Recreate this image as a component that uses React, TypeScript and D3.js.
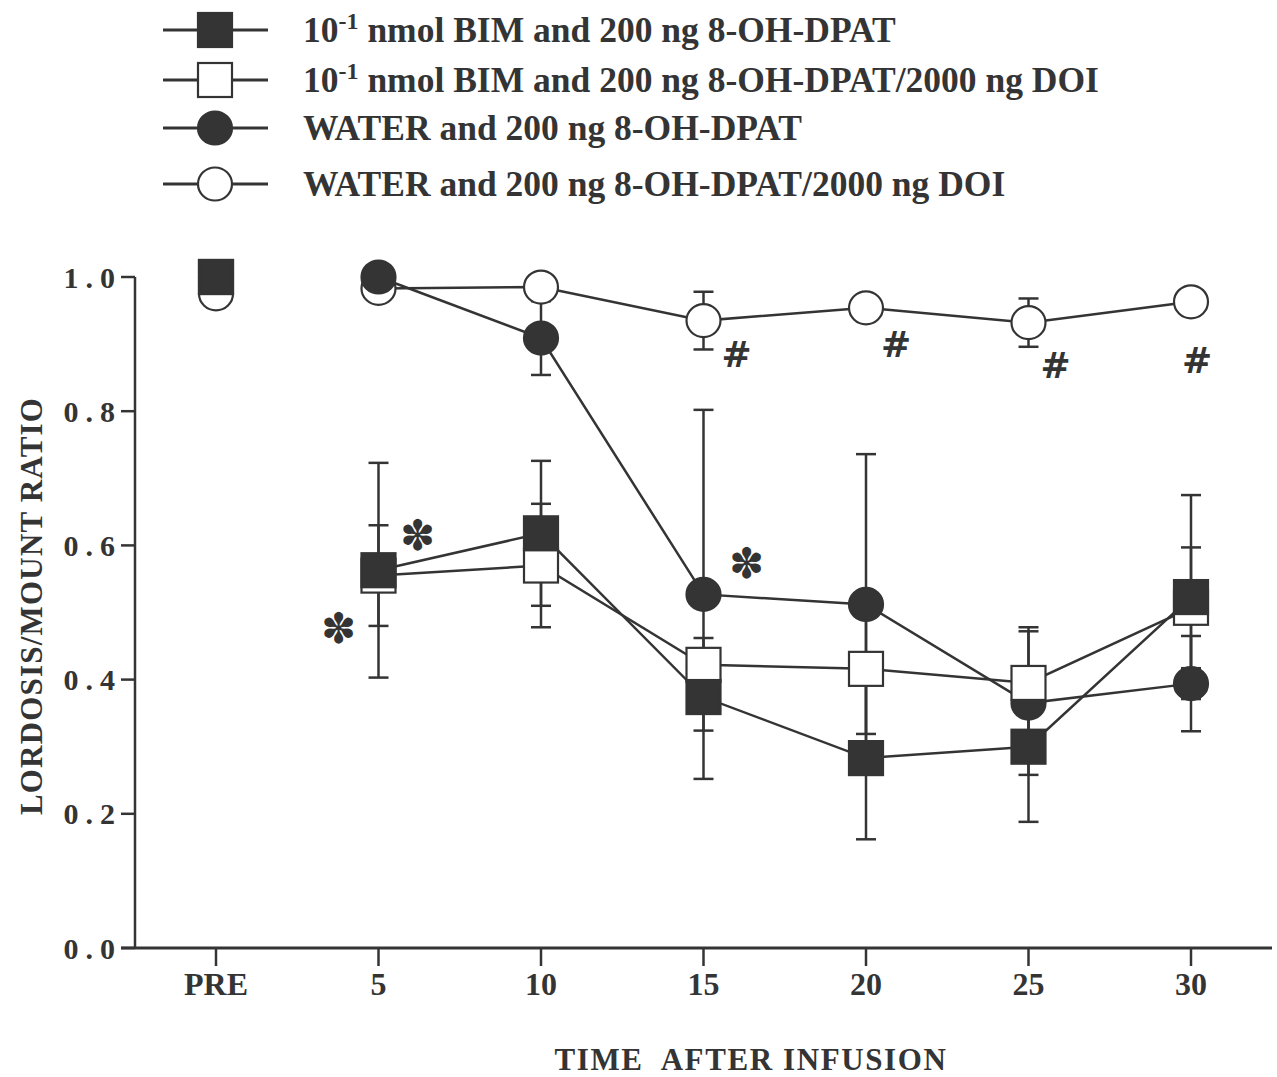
import React from "react";
import * as d3 from "d3";

const categories = ["PRE", "5", "10", "15", "20", "25", "30"];
const yTicks = [0, 0.2, 0.4, 0.6, 0.8, 1.0];

const bimDpat = [1.0, 0.563, 0.618, 0.374, 0.283, 0.3, 0.523];
const bimDpatSem = [0, 0.16, 0.108, 0.05, 0.121, 0.112, 0.152];
const bimDpatDoi = [1.0, 0.555, 0.57, 0.422, 0.416, 0.395, 0.507];
const bimDpatDoiSem = [0, 0.075, 0.092, 0.04, 0.097, 0.083, 0.09];
const waterDpat = [1.0, 1.0, 0.909, 0.527, 0.512, 0.365, 0.394];
const waterDpatSem = [0, 0, 0.055, 0.275, 0.224, 0.107, 0.071];
const waterDpatDoi = [0.975, 0.983, 0.985, 0.935, 0.954, 0.932, 0.963];
const waterDpatDoiSem = [0, 0, 0.01, 0.043, 0.01, 0.036, 0.01];

const legendLabels = [
  ["10", "-1", " nmol BIM and 200 ng 8-OH-DPAT"],
  ["10", "-1", " nmol BIM and 200 ng 8-OH-DPAT/2000 ng DOI"],
  ["WATER and 200 ng 8-OH-DPAT", "", ""],
  ["WATER and 200 ng 8-OH-DPAT/2000 ng DOI", "", ""],
];

// significance marks: category, value level, horizontal offset
const asteriskMarks = [
  { cat: "5", v: 0.615, dx: 39 },
  { cat: "5", v: 0.477, dx: -40 },
  { cat: "15", v: 0.574, dx: 43 },
];
const hashMarks = [
  { cat: "15", v: 0.884, dx: 33 },
  { cat: "20", v: 0.899, dx: 30 },
  { cat: "25", v: 0.869, dx: 27 },
  { cat: "30", v: 0.876, dx: 6 },
];

const INK = "#343434";
const FONT = "'Liberation Serif', 'Times New Roman', serif";

type Series = { key: string; values: number[]; sem: number[]; shape: "square" | "circle"; filled: boolean };

const seriesList: Series[] = [
  { key: "waterDoi", values: waterDpatDoi, sem: waterDpatDoiSem, shape: "circle", filled: false },
  { key: "water", values: waterDpat, sem: waterDpatSem, shape: "circle", filled: true },
  { key: "bimDoi", values: bimDpatDoi, sem: bimDpatDoiSem, shape: "square", filled: false },
  { key: "bim", values: bimDpat, sem: bimDpatSem, shape: "square", filled: true },
];
const legendOrder = ["bim", "bimDoi", "water", "waterDoi"];

function Marker({ x, y, shape, filled }: { x: number; y: number; shape: string; filled: boolean }) {
  const fill = filled ? INK : "#fff";
  if (shape === "square") {
    return <rect x={x - 17} y={y - 17} width={34} height={34} fill={fill} stroke={INK} strokeWidth={2.2} />;
  }
  return <ellipse cx={x} cy={y} rx={17} ry={16.5} fill={fill} stroke={INK} strokeWidth={2.2} />;
}

export default function App() {
  const W = 1277, H = 1077;
  const x = d3.scalePoint<string>().domain(categories).range([216, 1191]);
  const y = d3.scaleLinear().domain([0, 1]).range([948, 277]);
  const line = d3
    .line<[string, number]>()
    .x((d) => x(d[0]) as number)
    .y((d) => y(d[1]));

  const legendRows = [30, 80, 128, 184];
  const capW = 10;

  return (
    <svg width={W} height={H} style={{ position: "absolute", left: 0, top: 0, background: "#fff" }}>
      <rect width={W} height={H} fill="#fff" />
      {/* legend */}
      {legendOrder.map((k, i) => {
        const s = seriesList.find((d) => d.key === k)!;
        const ly = legendRows[i];
        const [a, sup, b] = legendLabels[i];
        return (
          <g key={k}>
            <line x1={163} x2={268} y1={ly} y2={ly} stroke={INK} strokeWidth={3} />
            <Marker x={215} y={ly} shape={s.shape} filled={s.filled} />
            <text x={303} y={ly + 12} fontFamily={FONT} fontWeight="bold" fontSize={35.5} fill={INK} style={{ whiteSpace: "pre" }}>
              {a}
              {sup && (
                <tspan dy={-13} fontSize={24}>
                  {sup}
                </tspan>
              )}
              {b && <tspan dy={sup ? 13 : 0}>{b}</tspan>}
            </text>
          </g>
        );
      })}

      {/* axes */}
      <line x1={135} x2={135} y1={277} y2={948} stroke={INK} strokeWidth={2.5} />
      <line x1={121} x2={1272} y1={948} y2={948} stroke={INK} strokeWidth={3} />
      {yTicks.map((t) => (
        <g key={t}>
          <line x1={121} x2={135} y1={y(t)} y2={y(t)} stroke={INK} strokeWidth={2.5} />
          <text x={122} y={y(t)} dy="0.35em" textAnchor="end" fontFamily={FONT} fontWeight="bold" fontSize={30} letterSpacing={7} fill={INK}>
            {t.toFixed(1)}
          </text>
        </g>
      ))}
      {categories.map((c) => (
        <g key={c}>
          <line x1={x(c)} x2={x(c)} y1={948} y2={966} stroke={INK} strokeWidth={2.5} />
          <text x={x(c)} y={995} textAnchor="middle" fontFamily={FONT} fontWeight="bold" fontSize={32} fill={INK}>
            {c}
          </text>
        </g>
      ))}
      <text x={751} y={1070} textAnchor="middle" fontFamily={FONT} fontWeight="bold" fontSize={31} letterSpacing={1.6} fill={INK} style={{ whiteSpace: "pre" }}>
        {"TIME  AFTER INFUSION"}
      </text>
      <text
        transform={`translate(42,606) rotate(-90)`}
        textAnchor="middle"
        fontFamily={FONT}
        fontWeight="bold"
        fontSize={31}
        letterSpacing={1.2}
        fill={INK}
      >
        LORDOSIS/MOUNT RATIO
      </text>

      {/* lines (post-infusion only) */}
      {seriesList.map((s) => (
        <path
          key={s.key + "-line"}
          d={line(categories.slice(1).map((c, i) => [c, s.values[i + 1]] as [string, number])) || ""}
          fill="none"
          stroke={INK}
          strokeWidth={2.5}
        />
      ))}

      {/* error bars */}
      {seriesList.map((s) =>
        categories.map((c, i) => {
          const e = s.sem[i];
          if (!e) return null;
          const cx = x(c) as number;
          const hi = y(s.values[i] + e);
          const lo = y(s.values[i] - e);
          return (
            <g key={s.key + "-err-" + c} stroke={INK} strokeWidth={2.5}>
              <line x1={cx} x2={cx} y1={hi} y2={lo} />
              <line x1={cx - capW} x2={cx + capW} y1={hi} y2={hi} />
              <line x1={cx - capW} x2={cx + capW} y1={lo} y2={lo} />
            </g>
          );
        })
      )}

      {/* markers */}
      {seriesList.map((s) =>
        categories.map((c, i) => (
          <Marker key={s.key + "-m-" + c} x={x(c) as number} y={y(s.values[i])} shape={s.shape} filled={s.filled} />
        ))
      )}

      {/* significance marks */}
      {asteriskMarks.map((m, i) => (
        <text
          key={"ast" + i}
          x={(x(m.cat) as number) + m.dx}
          y={y(m.v)}
          dy="0.36em"
          textAnchor="middle"
          fontFamily="'DejaVu Sans', sans-serif"
          fontSize={42}
          fill={INK}
        >
          ✽
        </text>
      ))}
      {hashMarks.map((m, i) => (
        <text
          key={"hash" + i}
          x={(x(m.cat) as number) + m.dx}
          y={y(m.v)}
          dy="0.35em"
          textAnchor="middle"
          fontFamily="'DejaVu Sans', sans-serif"
          fontWeight="bold"
          fontSize={36}
          fill={INK}
        >
          #
        </text>
      ))}
    </svg>
  );
}
